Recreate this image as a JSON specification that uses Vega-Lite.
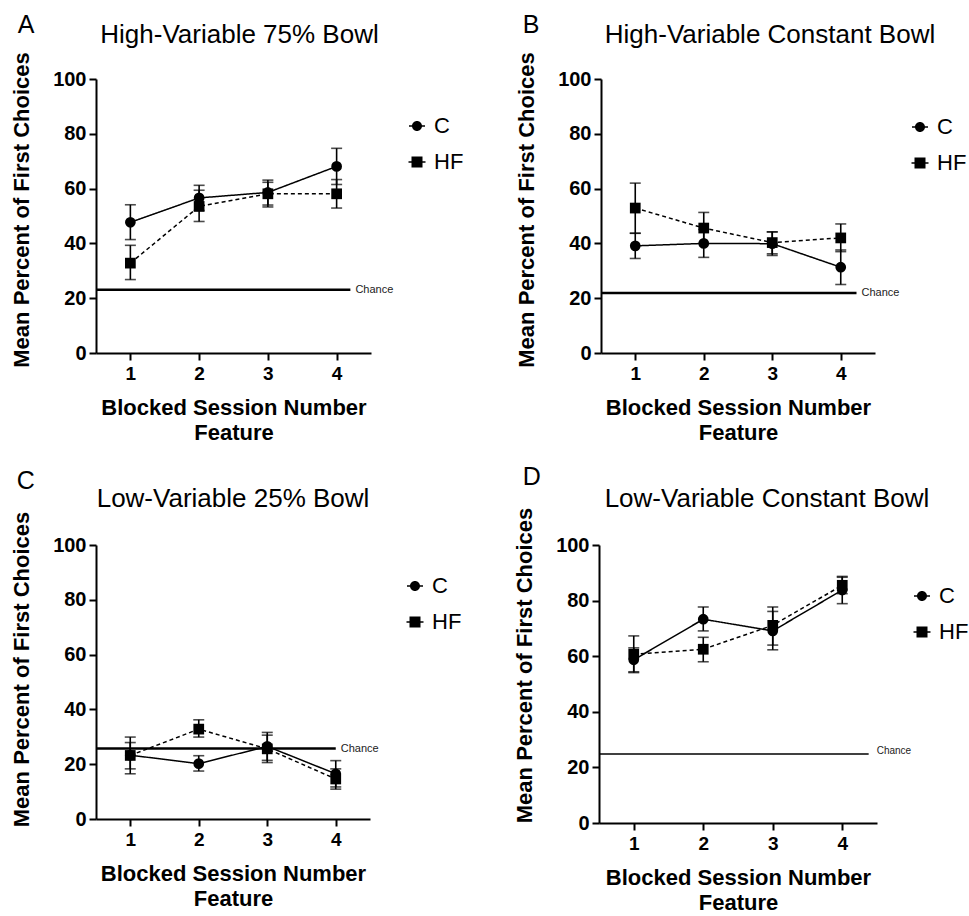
{
  "$schema": "https://vega.github.io/schema/vega-lite/v6.json",
  "padding": {"left": 10, "top": 13, "right": 0, "bottom": 0},
  "datasets": {
    "points": [
      {"panel": "A", "session": 1, "group": "C", "mean": 47.7, "lo": 41.4, "hi": 54.1},
      {"panel": "A", "session": 2, "group": "C", "mean": 56.6, "lo": 52.0, "hi": 61.2},
      {"panel": "A", "session": 3, "group": "C", "mean": 58.6, "lo": 53.3, "hi": 63.1},
      {"panel": "A", "session": 4, "group": "C", "mean": 68.1, "lo": 61.5, "hi": 74.7},
      {"panel": "A", "session": 1, "group": "HF", "mean": 32.8, "lo": 26.8, "hi": 39.3},
      {"panel": "A", "session": 2, "group": "HF", "mean": 53.5, "lo": 48.0, "hi": 59.4},
      {"panel": "A", "session": 3, "group": "HF", "mean": 58.1, "lo": 54.0, "hi": 62.3},
      {"panel": "A", "session": 4, "group": "HF", "mean": 58.1, "lo": 52.9, "hi": 63.3},
      {"panel": "B", "session": 1, "group": "C", "mean": 39.1, "lo": 34.5, "hi": 43.7},
      {"panel": "B", "session": 2, "group": "C", "mean": 40.0, "lo": 34.9, "hi": 45.1},
      {"panel": "B", "session": 3, "group": "C", "mean": 39.9, "lo": 35.6, "hi": 44.2},
      {"panel": "B", "session": 4, "group": "C", "mean": 31.3, "lo": 25.0, "hi": 37.6},
      {"panel": "B", "session": 1, "group": "HF", "mean": 52.9, "lo": 43.7, "hi": 62.0},
      {"panel": "B", "session": 2, "group": "HF", "mean": 45.6, "lo": 39.9, "hi": 51.3},
      {"panel": "B", "session": 3, "group": "HF", "mean": 40.3, "lo": 36.2, "hi": 44.2},
      {"panel": "B", "session": 4, "group": "HF", "mean": 42.0, "lo": 37.0, "hi": 47.1},
      {"panel": "C", "session": 1, "group": "C", "mean": 23.3, "lo": 18.3, "hi": 27.9},
      {"panel": "C", "session": 2, "group": "C", "mean": 20.2, "lo": 17.5, "hi": 23.1},
      {"panel": "C", "session": 3, "group": "C", "mean": 26.5, "lo": 21.4, "hi": 31.6},
      {"panel": "C", "session": 4, "group": "C", "mean": 16.5, "lo": 11.7, "hi": 21.3},
      {"panel": "C", "session": 1, "group": "HF", "mean": 23.2, "lo": 16.5, "hi": 29.9},
      {"panel": "C", "session": 2, "group": "HF", "mean": 32.8, "lo": 29.9, "hi": 36.2},
      {"panel": "C", "session": 3, "group": "HF", "mean": 25.6, "lo": 20.6, "hi": 30.6},
      {"panel": "C", "session": 4, "group": "HF", "mean": 14.6, "lo": 10.9, "hi": 18.3},
      {"panel": "D", "session": 1, "group": "C", "mean": 58.7, "lo": 54.4, "hi": 63.0},
      {"panel": "D", "session": 2, "group": "C", "mean": 73.3, "lo": 69.1, "hi": 77.7},
      {"panel": "D", "session": 3, "group": "C", "mean": 69.1, "lo": 62.3, "hi": 76.1},
      {"panel": "D", "session": 4, "group": "C", "mean": 83.8, "lo": 78.9, "hi": 88.7},
      {"panel": "D", "session": 1, "group": "HF", "mean": 60.7, "lo": 54.1, "hi": 67.3},
      {"panel": "D", "session": 2, "group": "HF", "mean": 62.5, "lo": 58.0, "hi": 66.8},
      {"panel": "D", "session": 3, "group": "HF", "mean": 71.1, "lo": 64.0, "hi": 77.7},
      {"panel": "D", "session": 4, "group": "HF", "mean": 85.5, "lo": 82.5, "hi": 88.4}
    ],
    "chance": [
      {"panel": "A", "level": 23.1, "x_from": 0.5, "x_to": 4.2, "label": "Chance"},
      {"panel": "B", "level": 21.9, "x_from": 0.5, "x_to": 4.23, "label": "Chance"},
      {"panel": "C", "level": 25.7, "x_from": 0.5, "x_to": 4.0, "label": "Chance"},
      {"panel": "D", "level": 24.8, "x_from": 0.5, "x_to": 4.38, "label": "Chance"}
    ]
  },
  "vconcat": [
    {
      "spacing": 51,
      "hconcat": [
        {
          "title": {"text": "A", "anchor": "start", "frame": "bounds", "fontSize": 25, "offset": -16, "dx": 7},
          "vconcat": [
            {
              "width": 275, "height": 274,
              "title": {"text": "High-Variable 75% Bowl", "dx": 6, "offset": 3.5},
              "layer": [
                {"data": {"name": "chance"}, "transform": [{"filter": "datum.panel === 'A'"}],
                 "mark": {"type": "rule", "color": "black", "strokeWidth": 2.5},
                 "encoding": {
                   "x": {"field": "x_from", "type": "quantitative", "scale": {"domain": [0.5, 4.5], "nice": false, "zero": false},
                         "axis": {"values": [1, 2, 3, 4], "format": "d", "title": ["Blocked Session Number", "Feature"]}},
                   "x2": {"field": "x_to"},
                   "y": {"field": "level", "type": "quantitative", "scale": {"domain": [0, 100], "nice": false},
                         "axis": {"values": [0, 20, 40, 60, 80, 100], "title": "Mean Percent of First Choices", "titleY": 130.5}}
                 }},
                {"data": {"name": "chance"}, "transform": [{"filter": "datum.panel === 'A'"}],
                 "mark": {"type": "text", "align": "left", "baseline": "middle", "dx": 5, "fontSize": 11, "color": "#222"},
                 "encoding": {"x": {"field": "x_to", "type": "quantitative"}, "y": {"field": "level", "type": "quantitative"}, "text": {"field": "label"}}},
                {"data": {"name": "points"}, "transform": [{"filter": "datum.panel === 'A'"}],
                 "mark": {"type": "errorbar", "ticks": {"size": 11}, "thickness": 1.6, "color": "black"},
                 "encoding": {"x": {"field": "session", "type": "quantitative", "title": ["Blocked Session Number", "Feature"]}, "y": {"field": "lo", "type": "quantitative", "title": "Mean Percent of First Choices"}, "y2": {"field": "hi"}, "detail": {"field": "group"}}},
                {"data": {"name": "points"}, "transform": [{"filter": "datum.panel === 'A'"}],
                 "mark": {"type": "line", "color": "black", "strokeWidth": 1.5},
                 "encoding": {"x": {"field": "session", "type": "quantitative"}, "y": {"field": "mean", "type": "quantitative"},
                   "strokeDash": {"field": "group", "type": "nominal", "scale": {"domain": ["C", "HF"], "range": [[1, 0], [4, 3]]}, "legend": null}}},
                {"data": {"name": "points"}, "transform": [{"filter": "datum.panel === 'A'"}],
                 "mark": {"type": "point", "filled": true, "size": 115, "color": "black", "opacity": 1},
                 "encoding": {"x": {"field": "session", "type": "quantitative"}, "y": {"field": "mean", "type": "quantitative"},
                   "shape": {"field": "group", "type": "nominal", "scale": {"domain": ["C", "HF"], "range": ["circle", "square"]}, "legend": null}}},
                {"data": {"name": "points"}, "transform": [{"filter": "datum.panel === 'A'"}],
                 "mark": {"type": "point", "filled": true, "color": "black", "size": 100, "opacity": 0},
                 "encoding": {"x": {"field": "session", "type": "quantitative"}, "y": {"field": "mean", "type": "quantitative"},
                   "shape": {"field": "group", "type": "nominal", "scale": {"domain": ["C", "HF"], "range": ["M-1.6,-0.15L1.6,-0.15L1.6,0.15L-1.6,0.15ZM1,0A1,1,0,1,1,-1,0A1,1,0,1,1,1,0Z", "M-1.7,-0.15L-1.1,-0.15L-1.1,0.15L-1.7,0.15ZM1.1,-0.15L1.7,-0.15L1.7,0.15L1.1,0.15ZM-1.1,-1.1L1.1,-1.1L1.1,1.1L-1.1,1.1Z"]},
                     "legend": {"orient": "none", "legendX": 310, "legendY": 36}}}}
              ],
              "resolve": {"scale": {"shape": "independent"}, "legend": {"shape": "independent"}}
            }
          ]
        },
        {
          "title": {"text": "B", "anchor": "start", "frame": "bounds", "fontSize": 25, "offset": -16, "dx": 7},
          "vconcat": [
            {
              "width": 274, "height": 274,
              "title": {"text": "High-Variable Constant Bowl", "dx": 32, "offset": 3.5},
              "layer": [
                {"data": {"name": "chance"}, "transform": [{"filter": "datum.panel === 'B'"}],
                 "mark": {"type": "rule", "color": "black", "strokeWidth": 2.5},
                 "encoding": {
                   "x": {"field": "x_from", "type": "quantitative", "scale": {"domain": [0.5, 4.5], "nice": false, "zero": false},
                         "axis": {"values": [1, 2, 3, 4], "format": "d", "title": ["Blocked Session Number", "Feature"]}},
                   "x2": {"field": "x_to"},
                   "y": {"field": "level", "type": "quantitative", "scale": {"domain": [0, 100], "nice": false},
                         "axis": {"values": [0, 20, 40, 60, 80, 100], "title": "Mean Percent of First Choices", "titleY": 130.5}}
                 }},
                {"data": {"name": "chance"}, "transform": [{"filter": "datum.panel === 'B'"}],
                 "mark": {"type": "text", "align": "left", "baseline": "middle", "dx": 5, "fontSize": 11, "color": "#222"},
                 "encoding": {"x": {"field": "x_to", "type": "quantitative"}, "y": {"field": "level", "type": "quantitative"}, "text": {"field": "label"}}},
                {"data": {"name": "points"}, "transform": [{"filter": "datum.panel === 'B'"}],
                 "mark": {"type": "errorbar", "ticks": {"size": 11}, "thickness": 1.6, "color": "black"},
                 "encoding": {"x": {"field": "session", "type": "quantitative", "title": ["Blocked Session Number", "Feature"]}, "y": {"field": "lo", "type": "quantitative", "title": "Mean Percent of First Choices"}, "y2": {"field": "hi"}, "detail": {"field": "group"}}},
                {"data": {"name": "points"}, "transform": [{"filter": "datum.panel === 'B'"}],
                 "mark": {"type": "line", "color": "black", "strokeWidth": 1.5},
                 "encoding": {"x": {"field": "session", "type": "quantitative"}, "y": {"field": "mean", "type": "quantitative"},
                   "strokeDash": {"field": "group", "type": "nominal", "scale": {"domain": ["C", "HF"], "range": [[1, 0], [4, 3]]}, "legend": null}}},
                {"data": {"name": "points"}, "transform": [{"filter": "datum.panel === 'B'"}],
                 "mark": {"type": "point", "filled": true, "size": 115, "color": "black", "opacity": 1},
                 "encoding": {"x": {"field": "session", "type": "quantitative"}, "y": {"field": "mean", "type": "quantitative"},
                   "shape": {"field": "group", "type": "nominal", "scale": {"domain": ["C", "HF"], "range": ["circle", "square"]}, "legend": null}}},
                {"data": {"name": "points"}, "transform": [{"filter": "datum.panel === 'B'"}],
                 "mark": {"type": "point", "filled": true, "color": "black", "size": 100, "opacity": 0},
                 "encoding": {"x": {"field": "session", "type": "quantitative"}, "y": {"field": "mean", "type": "quantitative"},
                   "shape": {"field": "group", "type": "nominal", "scale": {"domain": ["C", "HF"], "range": ["M-1.6,-0.15L1.6,-0.15L1.6,0.15L-1.6,0.15ZM1,0A1,1,0,1,1,-1,0A1,1,0,1,1,1,0Z", "M-1.7,-0.15L-1.1,-0.15L-1.1,0.15L-1.7,0.15ZM1.1,-0.15L1.7,-0.15L1.7,0.15L1.1,0.15ZM-1.1,-1.1L1.1,-1.1L1.1,1.1L-1.1,1.1Z"]},
                     "legend": {"orient": "none", "legendX": 308, "legendY": 37}}}}
              ],
              "resolve": {"scale": {"shape": "independent"}, "legend": {"shape": "independent"}}
            }
          ]
        }
      ]
    },
    {
      "spacing": 51,
      "hconcat": [
        {
          "title": {"text": "C", "anchor": "start", "frame": "bounds", "fontSize": 25, "offset": -8, "dx": 6},
          "vconcat": [
            {
              "width": 274, "height": 274,
              "title": {"text": "Low-Variable 25% Bowl", "dx": 0, "offset": -1},
              "layer": [
                {"data": {"name": "chance"}, "transform": [{"filter": "datum.panel === 'C'"}],
                 "mark": {"type": "rule", "color": "black", "strokeWidth": 2.5},
                 "encoding": {
                   "x": {"field": "x_from", "type": "quantitative", "scale": {"domain": [0.5, 4.5], "nice": false, "zero": false},
                         "axis": {"values": [1, 2, 3, 4], "format": "d", "title": ["Blocked Session Number", "Feature"]}},
                   "x2": {"field": "x_to"},
                   "y": {"field": "level", "type": "quantitative", "scale": {"domain": [0, 100], "nice": false},
                         "axis": {"values": [0, 20, 40, 60, 80, 100], "title": "Mean Percent of First Choices", "titleY": 124}}
                 }},
                {"data": {"name": "chance"}, "transform": [{"filter": "datum.panel === 'C'"}],
                 "mark": {"type": "text", "align": "left", "baseline": "middle", "dx": 5, "fontSize": 11, "color": "#222"},
                 "encoding": {"x": {"field": "x_to", "type": "quantitative"}, "y": {"field": "level", "type": "quantitative"}, "text": {"field": "label"}}},
                {"data": {"name": "points"}, "transform": [{"filter": "datum.panel === 'C'"}],
                 "mark": {"type": "errorbar", "ticks": {"size": 11}, "thickness": 1.6, "color": "black"},
                 "encoding": {"x": {"field": "session", "type": "quantitative", "title": ["Blocked Session Number", "Feature"]}, "y": {"field": "lo", "type": "quantitative", "title": "Mean Percent of First Choices"}, "y2": {"field": "hi"}, "detail": {"field": "group"}}},
                {"data": {"name": "points"}, "transform": [{"filter": "datum.panel === 'C'"}],
                 "mark": {"type": "line", "color": "black", "strokeWidth": 1.5},
                 "encoding": {"x": {"field": "session", "type": "quantitative"}, "y": {"field": "mean", "type": "quantitative"},
                   "strokeDash": {"field": "group", "type": "nominal", "scale": {"domain": ["C", "HF"], "range": [[1, 0], [4, 3]]}, "legend": null}}},
                {"data": {"name": "points"}, "transform": [{"filter": "datum.panel === 'C'"}],
                 "mark": {"type": "point", "filled": true, "size": 115, "color": "black", "opacity": 1},
                 "encoding": {"x": {"field": "session", "type": "quantitative"}, "y": {"field": "mean", "type": "quantitative"},
                   "shape": {"field": "group", "type": "nominal", "scale": {"domain": ["C", "HF"], "range": ["circle", "square"]}, "legend": null}}},
                {"data": {"name": "points"}, "transform": [{"filter": "datum.panel === 'C'"}],
                 "mark": {"type": "point", "filled": true, "color": "black", "size": 100, "opacity": 0},
                 "encoding": {"x": {"field": "session", "type": "quantitative"}, "y": {"field": "mean", "type": "quantitative"},
                   "shape": {"field": "group", "type": "nominal", "scale": {"domain": ["C", "HF"], "range": ["M-1.6,-0.15L1.6,-0.15L1.6,0.15L-1.6,0.15ZM1,0A1,1,0,1,1,-1,0A1,1,0,1,1,1,0Z", "M-1.7,-0.15L-1.1,-0.15L-1.1,0.15L-1.7,0.15ZM1.1,-0.15L1.7,-0.15L1.7,0.15L1.1,0.15ZM-1.1,-1.1L1.1,-1.1L1.1,1.1L-1.1,1.1Z"]},
                     "legend": {"orient": "none", "legendX": 308, "legendY": 30}}}}
              ],
              "resolve": {"scale": {"shape": "independent"}, "legend": {"shape": "independent"}}
            }
          ]
        },
        {
          "title": {"text": "D", "anchor": "start", "frame": "bounds", "fontSize": 25, "offset": -4, "dx": 9},
          "vconcat": [
            {
              "width": 278, "height": 278,
              "title": {"text": "Low-Variable Constant Bowl", "dx": 29, "offset": -4.3},
              "layer": [
                {"data": {"name": "chance"}, "transform": [{"filter": "datum.panel === 'D'"}],
                 "mark": {"type": "rule", "color": "black", "strokeWidth": 1.6},
                 "encoding": {
                   "x": {"field": "x_from", "type": "quantitative", "scale": {"domain": [0.5, 4.5], "nice": false, "zero": false},
                         "axis": {"values": [1, 2, 3, 4], "format": "d", "title": ["Blocked Session Number", "Feature"]}},
                   "x2": {"field": "x_to"},
                   "y": {"field": "level", "type": "quantitative", "scale": {"domain": [0, 100], "nice": false},
                         "axis": {"values": [0, 20, 40, 60, 80, 100], "title": "Mean Percent of First Choices", "titleY": 120}}
                 }},
                {"data": {"name": "chance"}, "transform": [{"filter": "datum.panel === 'D'"}],
                 "mark": {"type": "text", "align": "left", "baseline": "bottom", "dx": 8, "dy": 2, "fontSize": 10, "color": "#222"},
                 "encoding": {"x": {"field": "x_to", "type": "quantitative"}, "y": {"field": "level", "type": "quantitative"}, "text": {"field": "label"}}},
                {"data": {"name": "points"}, "transform": [{"filter": "datum.panel === 'D'"}],
                 "mark": {"type": "errorbar", "ticks": {"size": 11}, "thickness": 1.6, "color": "black"},
                 "encoding": {"x": {"field": "session", "type": "quantitative", "title": ["Blocked Session Number", "Feature"]}, "y": {"field": "lo", "type": "quantitative", "title": "Mean Percent of First Choices"}, "y2": {"field": "hi"}, "detail": {"field": "group"}}},
                {"data": {"name": "points"}, "transform": [{"filter": "datum.panel === 'D'"}],
                 "mark": {"type": "line", "color": "black", "strokeWidth": 1.5},
                 "encoding": {"x": {"field": "session", "type": "quantitative"}, "y": {"field": "mean", "type": "quantitative"},
                   "strokeDash": {"field": "group", "type": "nominal", "scale": {"domain": ["C", "HF"], "range": [[1, 0], [4, 3]]}, "legend": null}}},
                {"data": {"name": "points"}, "transform": [{"filter": "datum.panel === 'D'"}],
                 "mark": {"type": "point", "filled": true, "size": 115, "color": "black", "opacity": 1},
                 "encoding": {"x": {"field": "session", "type": "quantitative"}, "y": {"field": "mean", "type": "quantitative"},
                   "shape": {"field": "group", "type": "nominal", "scale": {"domain": ["C", "HF"], "range": ["circle", "square"]}, "legend": null}}},
                {"data": {"name": "points"}, "transform": [{"filter": "datum.panel === 'D'"}],
                 "mark": {"type": "point", "filled": true, "color": "black", "size": 100, "opacity": 0},
                 "encoding": {"x": {"field": "session", "type": "quantitative"}, "y": {"field": "mean", "type": "quantitative"},
                   "shape": {"field": "group", "type": "nominal", "scale": {"domain": ["C", "HF"], "range": ["M-1.6,-0.15L1.6,-0.15L1.6,0.15L-1.6,0.15ZM1,0A1,1,0,1,1,-1,0A1,1,0,1,1,1,0Z", "M-1.7,-0.15L-1.1,-0.15L-1.1,0.15L-1.7,0.15ZM1.1,-0.15L1.7,-0.15L1.7,0.15L1.1,0.15ZM-1.1,-1.1L1.1,-1.1L1.1,1.1L-1.1,1.1Z"]},
                     "legend": {"orient": "none", "legendX": 312, "legendY": 40}}}}
              ],
              "resolve": {"scale": {"shape": "independent"}, "legend": {"shape": "independent"}}
            }
          ]
        }
      ]
    }
  ],
  "spacing": 21,
  "config": {
    "font": "Liberation Sans",
    "view": {"stroke": null},
    "axis": {"grid": false, "domainColor": "black", "domainWidth": 2, "tickColor": "black", "tickWidth": 2, "tickSize": 7,
             "labelColor": "black", "labelFontWeight": "bold", "labelFont": "Liberation Sans",
             "titleFont": "Liberation Sans", "titleColor": "black", "titleFontWeight": "bold", "titleFontSize": 22},
    "axisX": {"labelFontSize": 19, "labelPadding": 4, "titlePadding": 14, "titleLineHeight": 25},
    "axisY": {"labelFontSize": 20, "labelPadding": 3, "titlePadding": 19},
    "title": {"font": "Liberation Sans", "fontWeight": "normal", "color": "black", "fontSize": 26},
    "legend": {"title": null, "labelFont": "Liberation Sans", "labelFontSize": 22, "labelColor": "black", "labelOffset": 6,
               "rowPadding": 14, "symbolOpacity": 1, "symbolFillColor": "black", "symbolStrokeColor": "black",
               "symbolStrokeWidth": 0, "symbolSize": 100}
  }
}
